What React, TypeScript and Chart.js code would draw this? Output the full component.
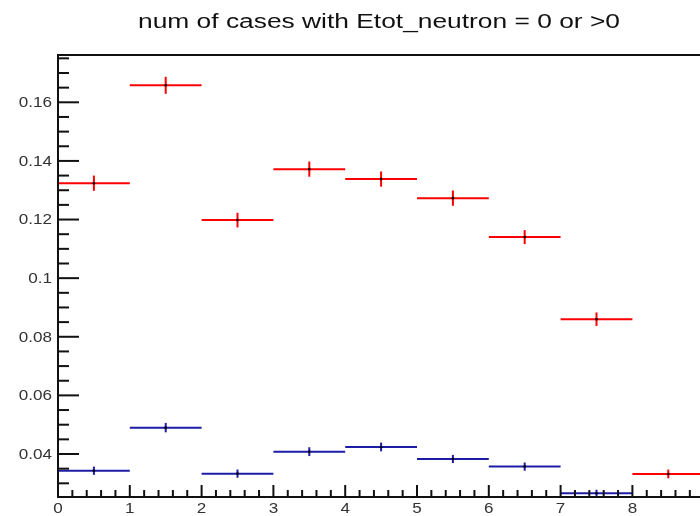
import { useEffect, useRef } from "react";
import { Chart, registerables } from "chart.js";

Chart.register(...registerables);

const TITLE = "num of cases with Etot_neutron = 0 or >0";
const BIN_EDGES = [0, 1, 2, 3, 4, 5, 6, 7, 8, 9, 10];
const RED_VALUES = [0.1324, 0.1658, 0.1198, 0.1372, 0.1338, 0.1273, 0.114, 0.086, 0.0332];
const RED_ERRORS = [0.0026, 0.0029, 0.0025, 0.0026, 0.0026, 0.0026, 0.0024, 0.0023, 0.0015];
const BLUE_VALUES = [0.0343, 0.049, 0.0333, 0.0408, 0.0424, 0.0383, 0.0357, 0.0266];
const BLUE_ERRORS = [0.0014, 0.0016, 0.0014, 0.0015, 0.0015, 0.0014, 0.0014, 0.0012];
const X_TICKS = [0, 1, 2, 3, 4, 5, 6, 7, 8, 9, 10];
const X_TICK_LABELS = ["0", "1", "2", "3", "4", "5", "6", "7", "8", "9", "10"];
const Y_TICKS = [0.04, 0.06, 0.08, 0.1, 0.12, 0.14, 0.16];
const Y_TICK_LABELS = ["0.04", "0.06", "0.08", "0.1", "0.12", "0.14", "0.16"];
const X_MIN = 0;
const X_MAX = 10;
const Y_MIN = 0.02533;
const Y_MAX = 0.17614;
const X_MINOR_DIV = 5;
const Y_MINOR_DIV = 4;

const RED = "#ff0000";
const BLUE = "#1c1ca6";
const FONT = '"Liberation Sans", Arial, Helvetica, sans-serif';

function makeData(values: number[], errors: number[]) {
  return values.map((v, i) => ({
    x: (BIN_EDGES[i] + BIN_EDGES[i + 1]) / 2,
    y: v,
    lo: BIN_EDGES[i],
    hi: BIN_EDGES[i + 1],
    err: errors[i],
  }));
}

function drawScaledText(
  ctx: CanvasRenderingContext2D,
  text: string,
  x: number,
  y: number,
  sx: number,
  align: "left" | "center" | "right"
) {
  ctx.save();
  ctx.translate(x, y);
  ctx.scale(sx, 1);
  ctx.textAlign = align;
  ctx.fillText(text, 0, 0);
  ctx.restore();
}

const rootPlugin = {
  id: "rootStyle",
  beforeDatasetsDraw(chart: any) {
    const ctx: CanvasRenderingContext2D = chart.ctx;
    const xs = chart.scales.x;
    const ys = chart.scales.y;
    const area = chart.chartArea;
    ctx.save();
    ctx.beginPath();
    ctx.rect(area.left, area.top, area.right - area.left, area.bottom - area.top);
    ctx.clip();
    ctx.lineWidth = 2;
    ctx.lineCap = "butt";
    chart.data.datasets.forEach((ds: any) => {
      ctx.strokeStyle = ds.barColor;
      ds.data.forEach((p: any) => {
        const y = ys.getPixelForValue(p.y);
        const xa = xs.getPixelForValue(p.lo);
        const xb = xs.getPixelForValue(p.hi);
        const xc = xs.getPixelForValue(p.x);
        ctx.beginPath();
        ctx.moveTo(xa, y);
        ctx.lineTo(xb, y);
        ctx.stroke();
        ctx.beginPath();
        ctx.moveTo(xc, ys.getPixelForValue(p.y + p.err));
        ctx.lineTo(xc, ys.getPixelForValue(p.y - p.err));
        ctx.stroke();
      });
    });
    ctx.restore();
  },
  afterDraw(chart: any) {
    const ctx: CanvasRenderingContext2D = chart.ctx;
    const xs = chart.scales.x;
    const ys = chart.scales.y;
    const { left, right, top, bottom } = chart.chartArea;
    ctx.save();
    // frame
    ctx.strokeStyle = "#111";
    ctx.lineWidth = 2;
    ctx.beginPath();
    ctx.moveTo(left, top);
    ctx.lineTo(right, top);
    ctx.lineTo(right, bottom);
    ctx.lineTo(left, bottom);
    ctx.closePath();
    ctx.stroke();

    // y ticks
    ctx.lineWidth = 2;
    const yStep = Y_TICKS[1] - Y_TICKS[0];
    const yMinor = yStep / Y_MINOR_DIV;
    let v = Y_TICKS[0] - Math.floor((Y_TICKS[0] - Y_MIN) / yMinor + 1e-9) * yMinor;
    for (; v <= Y_MAX + 1e-9; v += yMinor) {
      const rel = (v - Y_TICKS[0]) / yStep;
      const isMajor = Math.abs(rel - Math.round(rel)) < 1e-6;
      const py = ys.getPixelForValue(v);
      ctx.beginPath();
      ctx.moveTo(left, py);
      ctx.lineTo(left + (isMajor ? 21 : 11), py);
      ctx.stroke();
    }
    // x ticks
    const xStep = X_TICKS[1] - X_TICKS[0];
    const xMinor = xStep / X_MINOR_DIV;
    for (let k = 0; X_MIN + k * xMinor <= X_MAX + 1e-9; k++) {
      const xv = X_MIN + k * xMinor;
      const isMajor = k % X_MINOR_DIV === 0;
      const px = xs.getPixelForValue(xv);
      ctx.beginPath();
      ctx.moveTo(px, bottom);
      ctx.lineTo(px, bottom - (isMajor ? 12 : 7));
      ctx.stroke();
    }

    // labels
    ctx.fillStyle = "#333";
    ctx.font = `14px ${FONT}`;
    ctx.textBaseline = "middle";
    Y_TICKS.forEach((t, i) => {
      drawScaledText(ctx, Y_TICK_LABELS[i], left - 6, ys.getPixelForValue(t) + 1, 1.22, "right");
    });
    ctx.textBaseline = "alphabetic";
    X_TICKS.forEach((t, i) => {
      drawScaledText(ctx, X_TICK_LABELS[i], xs.getPixelForValue(t), bottom + 16, 1.22, "center");
    });

    // title
    ctx.fillStyle = "#111";
    ctx.font = `20px ${FONT}`;
    const w = ctx.measureText(TITLE).width;
    drawScaledText(ctx, TITLE, 379, 28, 482 / w, "center");
    ctx.restore();
  },
};

export default function App() {
  const canvasRef = useRef<HTMLCanvasElement | null>(null);

  useEffect(() => {
    const canvas = canvasRef.current;
    if (!canvas) return;
    const chart = new Chart(canvas, {
      type: "scatter",
      data: {
        datasets: [
          {
            label: "Etot_neutron > 0",
            data: makeData(RED_VALUES, RED_ERRORS),
            barColor: RED,
            pointRadius: 1.3,
            pointBackgroundColor: "#000",
            pointBorderWidth: 0,
          } as any,
          {
            label: "Etot_neutron = 0",
            data: makeData(BLUE_VALUES, BLUE_ERRORS),
            barColor: BLUE,
            pointRadius: 1.3,
            pointBackgroundColor: "#000",
            pointBorderWidth: 0,
          } as any,
        ],
      },
      options: {
        responsive: false,
        animation: false,
        devicePixelRatio: 1,
        layout: { padding: { left: 58, top: 55, right: 24, bottom: 19 } },
        plugins: {
          legend: { display: false },
          title: { display: false },
          tooltip: { enabled: false },
        },
        scales: {
          x: { type: "linear", min: X_MIN, max: X_MAX, display: false },
          y: { type: "linear", min: Y_MIN, max: Y_MAX, display: false },
        },
      },
      plugins: [rootPlugin],
    });
    return () => chart.destroy();
  }, []);

  return (
    <div
      style={{
        position: "fixed",
        left: 0,
        top: 0,
        width: 700,
        height: 516,
        overflow: "hidden",
        background: "#fff",
      }}
    >
      <canvas ref={canvasRef} width={800} height={516} style={{ display: "block", width: 800, height: 516 }} />
    </div>
  );
}
